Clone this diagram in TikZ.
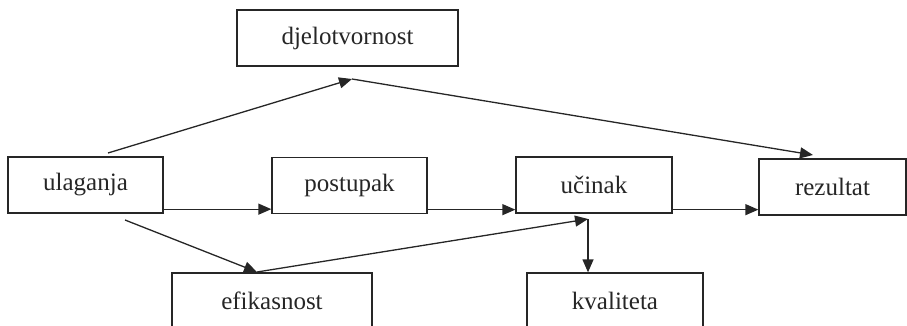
\documentclass[tikz,border=0pt]{standalone}
\usepackage{fontspec}
\setmainfont{Liberation Serif}
\usetikzlibrary{arrows.meta}
\begin{document}
\begin{tikzpicture}[x=1pt,y=-1pt,
  box/.style={draw=black!85,line width=1.3pt,minimum height=56pt,inner sep=0pt,
    font=\fontsize{25}{30}\selectfont,text=black!85},
  conn/.style={line width=1.3pt,draw=black!85},
  arr/.style={conn,-{Triangle[length=13pt,width=11pt]}}]
\useasboundingbox (0,0) rectangle (907,326);
\clip (0,0) rectangle (907,326);
\node[box,minimum width=221pt] (djel) at (347.5,38) {djelotvornost};
\node[box,minimum width=155pt] (ulag) at (85.5,185) {ulaganja};
\node[box,minimum width=155pt] (post) at (349.5,185.5) {postupak};
\node[box,minimum width=156pt] (ucin) at (594,185) {učinak};
\node[box,minimum width=147pt] (rez) at (832.5,187) {rezultat};
\node[box,minimum width=200pt] (efik) at (272,301) {efikasnost};
\node[box,minimum width=176pt] (kval) at (615,301) {kvaliteta};
\coordinate (uTop) at (108,153);
\coordinate (uBot) at (125,220);
\coordinate (j1) at (352,79);
\coordinate (rTop) at (813,155);
\coordinate (eTop) at (257,272);
\coordinate (j3) at (588,219);
\draw[arr] (uTop) -- (j1);
\draw[arr] (j1) -- (rTop);
\draw[arr] ([yshift=4.5pt]ulag.south east) -- ([yshift=4.5pt]ulag.south east -| post.west);
\draw[arr] ([yshift=4.5pt]post.south east) -- ([yshift=4.5pt]post.south east -| ucin.west);
\draw[arr] ([yshift=4pt]ucin.south east) -- ([yshift=4pt]ucin.south east -| rez.west);
\draw[arr] (uBot) -- (eTop);
\draw[arr] (eTop) -- (j3);
\draw[arr] (j3) -- (j3 |- kval.north);
\end{tikzpicture}
\end{document}
